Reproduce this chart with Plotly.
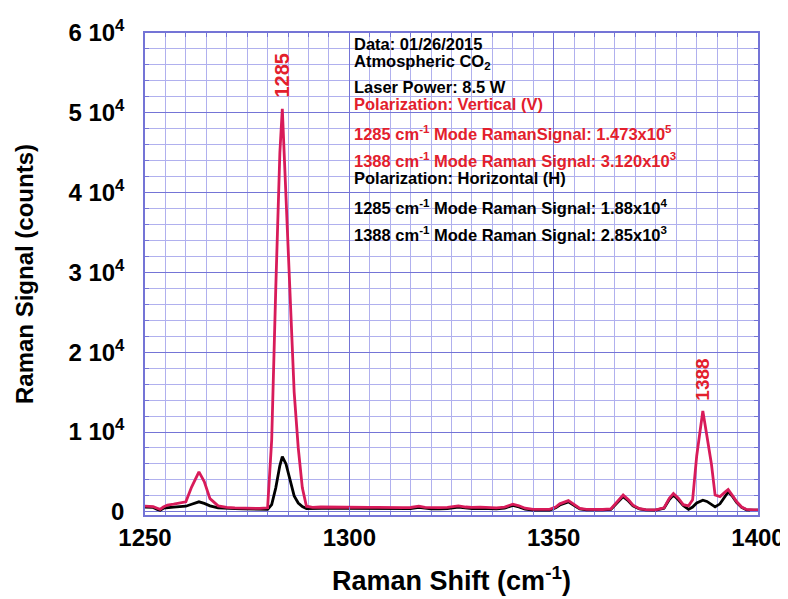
import plotly.graph_objects as go

shift = [1250, 1251, 1252, 1253, 1253.7, 1254.5, 1255.5, 1257, 1258.5, 1260, 1261.4, 1263.2,
         1264.5, 1265.9, 1267.9, 1270, 1272, 1274, 1276, 1278, 1280, 1281, 1282, 1283,
         1283.6, 1284.5, 1285.5, 1286.5, 1287.5, 1288.5, 1289.5, 1291, 1293, 1295, 1297,
         1299, 1301, 1303, 1305, 1307, 1309, 1311, 1313, 1315, 1317, 1318.5, 1320, 1322,
         1324, 1326.7, 1328.5, 1330, 1332, 1334, 1336, 1338, 1340, 1341.5, 1343, 1345,
         1347, 1349, 1350.5, 1351.5, 1353.6, 1355, 1356.4, 1358, 1360, 1362, 1364, 1365.5,
         1367, 1368.3, 1369.4, 1371, 1372.5, 1375, 1377, 1378.3, 1379.3, 1380.5, 1381.7,
         1383, 1384, 1385, 1386.5, 1387.5, 1388.6, 1389.5, 1390.7, 1392, 1392.7, 1393.8,
         1394.8, 1396, 1397.2, 1399, 1400]

signal_v = [700, 700, 650, 450, 300, 600, 850, 950, 1100, 1250, 3100, 5000,
            3800, 1650, 750, 550, 500, 480, 450, 420, 500, 9000, 28000, 45000,
            50500, 40000, 27000, 15000, 8000, 3000, 700, 550, 600, 580, 600,
            580, 560, 580, 550, 560, 530, 550, 520, 540, 700, 550, 500, 520,
            550, 750, 600, 550, 580, 520, 500, 600, 950, 750, 450, 300,
            290, 300, 600, 1000, 1400, 900, 420, 300, 280, 290, 350, 1200,
            2100, 1500, 830, 400, 280, 250, 500, 1700, 2300, 1700, 900,
            750, 1500, 7000, 12650, 9500, 6000, 2100, 1900, 2500, 2800, 2000,
            1250, 600, 300, 250, 250]

signal_h = [600, 620, 550, 300, 200, 450, 540, 600, 650, 700, 950, 1250,
            1050, 750, 500, 420, 400, 380, 350, 320, 300, 900, 3000, 5800,
            6900, 6000, 3800, 2000, 1100, 650, 400, 420, 450, 430, 450,
            430, 420, 430, 400, 420, 390, 400, 380, 400, 550, 420, 370, 380,
            400, 600, 450, 400, 430, 380, 360, 450, 800, 600, 320, 200,
            180, 200, 500, 850, 1250, 800, 350, 250, 230, 240, 300, 1100,
            1900, 1350, 750, 350, 250, 220, 450, 1550, 2100, 1500, 800,
            300, 600, 1100, 1450, 1300, 900, 620, 1000, 2000, 2500, 1900,
            1150, 550, 250, 220, 220]

y_tickvals = [0, 10000, 20000, 30000, 40000, 50000, 60000]
y_ticktext = ["0", "1 10<sup>4</sup>", "2 10<sup>4</sup>", "3 10<sup>4</sup>",
              "4 10<sup>4</sup>", "5 10<sup>4</sup>", "6 10<sup>4</sup>"]
x_tickvals = [1250, 1300, 1350, 1400]

info_lines = [
    ("Data: 01/26/2015", "black"),
    ("Atmospheric CO<sub>2</sub>", "black"),
    ("Laser Power: 8.5 W", "black"),
    ("Polarization: Vertical (V)", "red"),
    ("1285 cm<sup>-1</sup> Mode RamanSignal: 1.473x10<sup>5</sup>", "red"),
    ("1388 cm<sup>-1</sup> Mode Raman Signal: 3.120x10<sup>3</sup>", "red"),
    ("Polarization: Horizontal (H)", "black"),
    ("1285 cm<sup>-1</sup> Mode Raman Signal: 1.88x10<sup>4</sup>", "black"),
    ("1388 cm<sup>-1</sup> Mode Raman Signal: 2.85x10<sup>3</sup>", "black"),
]
# vertical centres of the lines in window pixels
info_y_px = [44, 62, 87, 104, 133, 160, 178, 207, 234]

LINE_RED = "#d81b5a"
TEXT_RED = "#e3202c"
FONT = "Liberation Sans, Arial, Helvetica, sans-serif"
MINOR = "#b0b0ee"
MAJOR = "#7474d6"

# the page body adds an 8 px offset; figure is sized to fill the rest of the window
OFF = 8
W, H = 788 - OFF, 599 - OFF
plot_l, plot_r, plot_t, plot_b = 145, 758, 33, 515  # window pixels
ml, mr, mt, mb = plot_l - OFF, W - (plot_r - OFF), plot_t - OFF, H - (plot_b - OFF)
pw, ph = W - ml - mr, H - mt - mb

fig = go.Figure()
fig.add_trace(go.Scatter(x=shift, y=signal_h, mode="lines",
                         line=dict(color="black", width=2.8), showlegend=False))
fig.add_trace(go.Scatter(x=shift, y=signal_v, mode="lines",
                         line=dict(color=LINE_RED, width=2.8), showlegend=False))

ann = []
for (txt, col), ypx in zip(info_lines, info_y_px):
    ann.append(dict(x=(352 - plot_l) / pw, y=1 - (ypx - plot_t) / ph,
                    xref="paper", yref="paper", text="<b>" + txt + "</b>",
                    showarrow=False, xanchor="left", yanchor="middle",
                    font=dict(family=FONT, size=16.5, color=TEXT_RED if col == "red" else "black")))

peak_labels = [(1283.6, 50500, "1285", 9, 20), (1386.5, 12650, "1388", 8, 19)]
for px, py, lab, ysh, fs in peak_labels:
    ann.append(dict(x=px, y=py, xref="x", yref="y", text="<b>" + lab + "</b>", textangle=-90,
                    showarrow=False, xanchor="center", yanchor="bottom", yshift=ysh,
                    font=dict(family=FONT, size=fs, color=TEXT_RED)))

fig.update_layout(
    width=W, height=H,
    margin=dict(l=ml, r=mr, t=mt, b=mb, autoexpand=False),
    paper_bgcolor="white", plot_bgcolor="white",
    font=dict(family=FONT, color="black"),
    annotations=ann,
    xaxis=dict(range=[1250, 1400], tickvals=x_tickvals,
               ticktext=["<b>%d</b>" % v for v in x_tickvals],
               tickfont=dict(family=FONT, size=24, color="black"),
               showgrid=True, gridcolor=MAJOR, gridwidth=1,
               ticks="inside", ticklen=8, tickcolor=MAJOR,
               showline=True, linecolor=MAJOR, linewidth=1.5, mirror="allticks",
               zeroline=False, automargin=False,
               minor=dict(tick0=1250, dtick=5, showgrid=True, gridcolor=MINOR,
                          ticks="inside", ticklen=4, tickcolor=MAJOR),
               title=dict(text="<b>Raman Shift (cm<sup>-1</sup>)</b>",
                          font=dict(family=FONT, size=27, color="black"), standoff=22)),
    yaxis=dict(range=[-400, 60000], tickmode="array", tickvals=y_tickvals,
               ticktext=["<b>%s</b>" % t for t in y_ticktext],
               tickfont=dict(family=FONT, size=24, color="black"),
               ticklabelstandoff=14,
               showgrid=True, gridcolor=MAJOR, gridwidth=1,
               ticks="inside", ticklen=8, tickcolor=MAJOR,
               showline=True, linecolor=MAJOR, linewidth=1.5, mirror="allticks",
               zeroline=False, automargin=False,
               minor=dict(tick0=0, dtick=2000, showgrid=True, gridcolor=MINOR,
                          ticks="inside", ticklen=4, tickcolor=MAJOR),
               title=dict(text="<b>Raman Signal (counts)</b>",
                          font=dict(family=FONT, size=24, color="black"), standoff=28)),
)

fig.write_html("out.html")
